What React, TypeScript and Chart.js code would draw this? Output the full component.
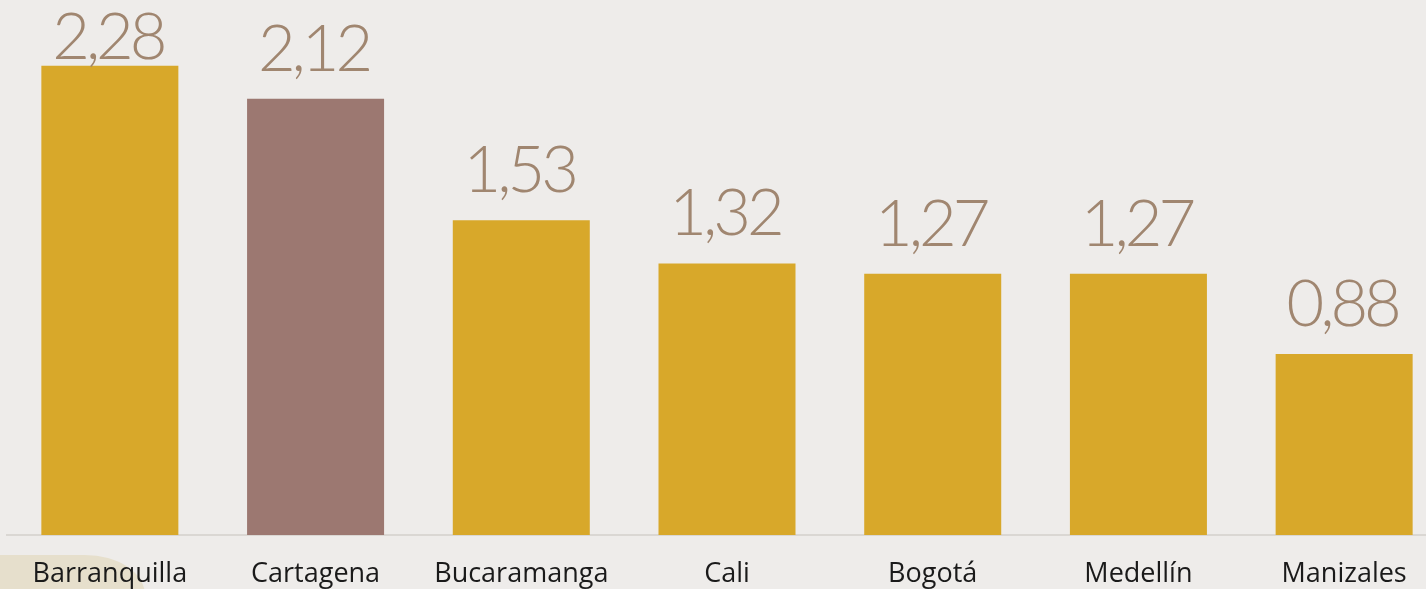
import React, { useEffect, useRef } from "react";
import { Chart, registerables } from "chart.js";

Chart.register(...registerables);

const categories = ["Barranquilla", "Cartagena", "Bucaramanga", "Cali", "Bogotá", "Medellín", "Manizales"];
const values = [2.28, 2.12, 1.53, 1.32, 1.27, 1.27, 0.88];
const barColors = ["#D8A82A", "#9C7871", "#D8A82A", "#D8A82A", "#D8A82A", "#D8A82A", "#D8A82A"];
const valueLabels = ["2,28", "2,12", "1,53", "1,32", "1,27", "1,27", "0,88"];

const valueLabelPlugin = {
  id: "valueLabels",
  afterDatasetsDraw(chart: any) {
    const ctx = chart.ctx;
    const meta = chart.getDatasetMeta(0);
    ctx.save();
    ctx.fillStyle = "#A08670";
    ctx.font = "300 65px Lato";
    try {
      (ctx as any).letterSpacing = "-4px";
    } catch (e) {}
    ctx.textAlign = "center";
    ctx.textBaseline = "alphabetic";
    meta.data.forEach((bar: any, i: number) => {
      const y = Math.max(bar.y - 28, chart.chartArea.top + 59);
      ctx.fillText(valueLabels[i], bar.x - 2, y);
    });
    ctx.restore();
  },
};

export default function App() {
  const ref = useRef<HTMLCanvasElement | null>(null);
  useEffect(() => {
    document.body.style.margin = "0";
    document.body.style.background = "#EEECEA";
    document.body.style.overflow = "hidden";
    const chart = new Chart(ref.current!, {
      type: "bar",
      data: {
        labels: categories,
        datasets: [
          {
            data: values,
            backgroundColor: barColors,
            borderWidth: 0,
            barPercentage: 0.666,
            categoryPercentage: 1,
          },
        ],
      },
      options: {
        animation: false,
        responsive: false,
        devicePixelRatio: 1,
        layout: { padding: { left: 7, right: 1, top: 0, bottom: 0 } },
        plugins: { legend: { display: false }, tooltip: { enabled: false } },
        scales: {
          x: {
            grid: { display: false, drawTicks: false },
            border: { display: true, color: "#DAD7D3", width: 2 },
            ticks: {
              color: "#1A1A1A",
              font: { family: "Open Sans", size: 27 },
              padding: 23,
              maxRotation: 0,
              autoSkip: false,
            },
            afterFit: (s: any) => {
              s.height = 54;
            },
          },
          y: { display: false, min: 0, max: 2.6 },
        },
      },
      plugins: [valueLabelPlugin],
    });
    return () => chart.destroy();
  }, []);
  return (
    <div style={{ position: "fixed", left: 0, top: 0, width: 1426, height: 589, overflow: "hidden", background: "#EEECEA" }}>
      <div
        style={{
          position: "absolute",
          left: 0,
          top: 555,
          width: 145,
          height: 60,
          background: "#E6DFCC",
          borderTopRightRadius: "60px 40px",
        }}
      />
      <canvas ref={ref} width={1448} height={589} style={{ position: "absolute", left: 0, top: 0 }} />
    </div>
  );
}
